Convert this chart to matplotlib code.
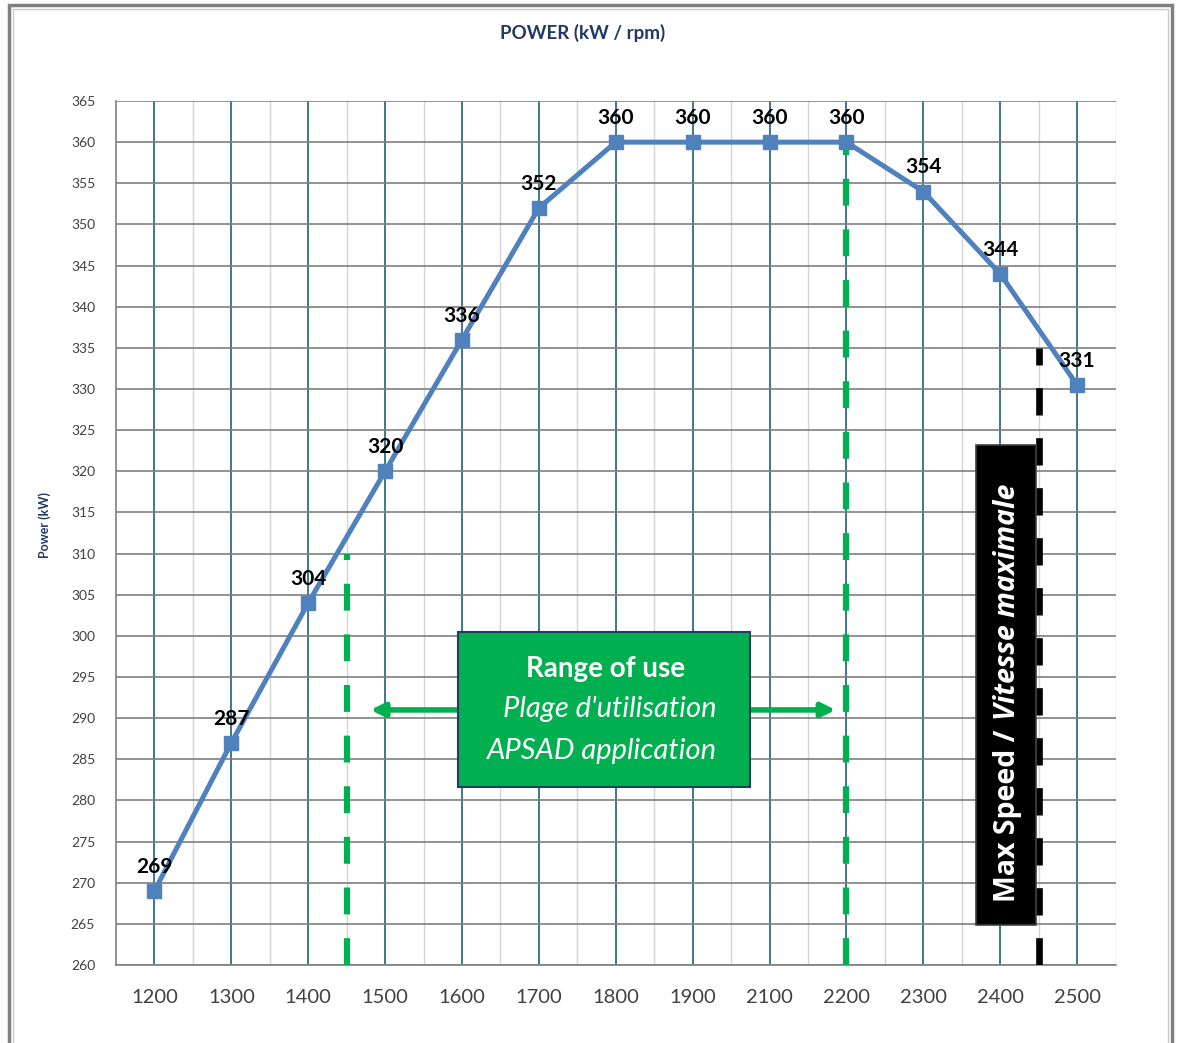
import matplotlib
matplotlib.use("Agg")
import matplotlib.pyplot as plt
from matplotlib.patches import Rectangle, FancyArrowPatch

plt.rcParams['font.family'] = ['Lato', 'DejaVu Sans']

rpm = ['1200', '1300', '1400', '1500', '1600', '1700', '1800', '1900',
       '2100', '2200', '2300', '2400', '2500']
power = [269, 287, 304, 320, 336, 352, 360, 360, 360, 360, 354, 344, 331]
power_values = [269, 287, 304, 320, 336, 352, 360, 360, 360, 360, 354, 344, 330.5]
yticks = list(range(260, 366, 5))

title = 'POWER (kW / rpm)'
ylabel = 'Power (kW)'
box_lines = ['Range of use', "Plage d'utilisation", 'APSAD application']
max_speed_a = 'Max Speed /'
max_speed_b = 'Vitesse maximale'

# reference positions (category index units)
range_start = 2.5      # between 1400 and 1500
range_end = 9.0        # 2200
max_speed_pos = 11.5   # between 2400 and 2500

W, H = 1179, 1043
fig = plt.figure(figsize=(W / 100, H / 100), dpi=100)
ax = fig.add_axes([116 / W, 1 - 965 / H, (1115.5 - 116) / W, (965 - 101) / H])

x = list(range(len(rpm)))
ax.set_xlim(-0.5, len(rpm) - 0.5)
ax.set_ylim(260, 365)

# grid
for xi in x:
    ax.axvline(xi, color='#1f5f78', lw=1.2, zorder=1)
for xi in x:
    ax.axvline(xi + 0.5, color='#d4d4d4', lw=1.0, zorder=0.9)
for yv in yticks:
    ax.axhline(yv, color='#7f7f7f', lw=1.2, zorder=1)

for s in ['top', 'right']:
    ax.spines[s].set_visible(False)
ax.spines['left'].set_color('#7f7f7f')
ax.spines['bottom'].set_color('#7f7f7f')
ax.spines['left'].set_linewidth(1.2)
ax.spines['bottom'].set_linewidth(1.2)

ax.set_yticks(yticks)
ax.set_yticklabels([str(v) for v in yticks], fontsize=10, color='#404040')
ax.set_xticks(x)
ax.set_xticklabels(rpm, fontsize=14.5, color='#404040')
ax.tick_params(axis='both', length=0)
ax.tick_params(axis='x', pad=17)
ax.tick_params(axis='y', pad=15)

# green dashed range lines
ax.plot([range_start, range_start], [260, 310], color='#00b050', lw=4.5,
        dashes=(4.3, 3.8), zorder=3, dash_capstyle='butt')
ax.plot([range_end, range_end], [260, 360], color='#00b050', lw=4.5,
        dashes=(4.3, 3.8), zorder=3, dash_capstyle='butt')

# black max speed line
ax.plot([max_speed_pos, max_speed_pos], [260, 335], color='black', lw=4.8,
        dashes=(4.1, 3.4), zorder=3, dash_capstyle='butt')

# black box
ax.add_patch(Rectangle((10.69, 264.9), 0.77, 323.2 - 264.9, facecolor='black',
                       edgecolor='#404040', lw=1.2, zorder=4))
ax.text(11.09, 267.6, max_speed_a, rotation=90, ha='center', va='bottom',
        color='white', fontsize=20.5, fontweight='bold', zorder=5,
        family=['Open Sans', 'DejaVu Sans'])
ax.text(11.09, 289.8, max_speed_b, rotation=90, ha='center', va='bottom',
        color='white', fontsize=20.5, fontweight='bold', style='italic', zorder=5,
        family=['Open Sans', 'DejaVu Sans'])

# green box + arrows
ax.add_patch(Rectangle((3.95, 281.6), 7.74 - 3.95, 300.5 - 281.6,
                       facecolor='#00b050', edgecolor='#1f3f60', lw=1.5, zorder=4))
cx = (3.95 + 7.74) / 2
ax.text(cx + 0.02, 296.0, box_lines[0], ha='center', va='center', color='white',
        fontsize=20, fontweight='bold', zorder=5)
ax.text(cx + 0.08, 291.1, box_lines[1], ha='center', va='center', color='white',
        fontsize=21, style='italic', zorder=5)
ax.text(cx - 0.02, 286.0, box_lines[2], ha='center', va='center', color='white',
        fontsize=21, style='italic', zorder=5)
for x0, x1 in [(3.95, 2.81), (7.74, 8.86)]:
    ax.add_patch(FancyArrowPatch((x0, 291), (x1, 291), arrowstyle='-|>',
                                 mutation_scale=20, color='#00b050', lw=4,
                                 shrinkA=0, shrinkB=0, zorder=3.5))

# data line
ax.plot(x, power_values, color='#4f81bd', lw=3.6, marker='s', markersize=10.5,
        markerfacecolor='#4f81bd', markeredgecolor='#4f81bd', zorder=6,
        clip_on=False)
for xi, v, lab in zip(x, power_values, power):
    ax.annotate(str(lab), (xi, v), xytext=(0, 13), textcoords='offset points',
                ha='center', va='baseline', fontsize=15, fontweight='bold',
                color='black', zorder=7)

# titles
fig.text(583 / W, 1 - 33 / H, title, ha='center', va='center', fontsize=13.5,
         fontweight='bold', color='#1f3864')
fig.text(45 / W, 1 - 525 / H, ylabel, ha='center', va='center', rotation=90,
         fontsize=9, fontweight='bold', color='#1f3864')

# outer frame
fig.add_artist(Rectangle((9 / W, -0.02), (1172 - 9) / W, 1.02 - 5 / H,
                         transform=fig.transFigure, fill=False,
                         edgecolor='#808080', lw=2.5))
fig.add_artist(Rectangle((13 / W, -0.02), (1168 - 13) / W, 1.02 - 9 / H,
                         transform=fig.transFigure, fill=False,
                         edgecolor='#c8c8c8', lw=1))

fig.savefig('out.png', dpi=100)
